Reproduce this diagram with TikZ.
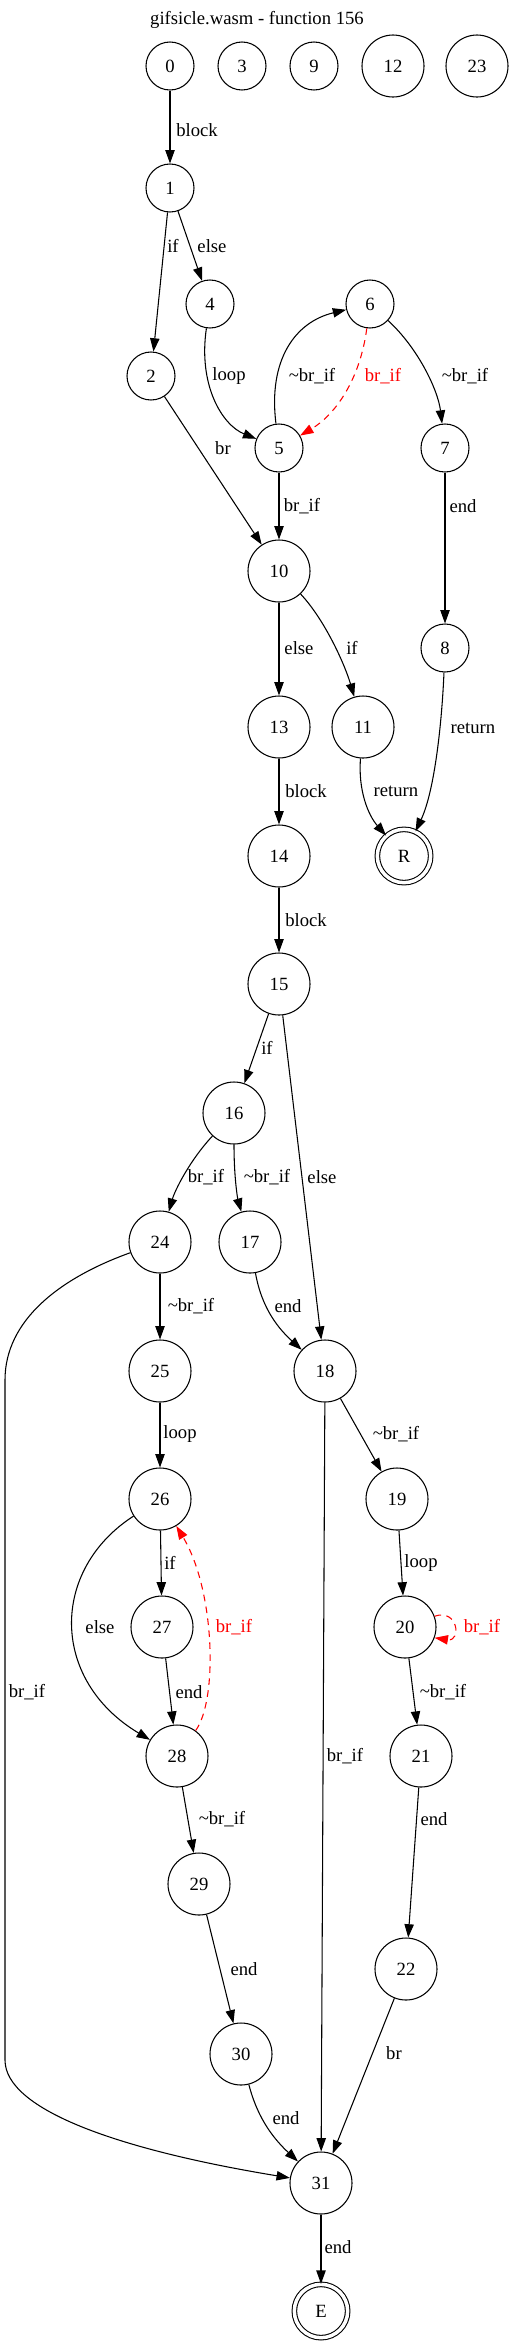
\documentclass[tikz,border=0pt]{standalone}
\usepackage{fontspec}
\setmainfont{Liberation Serif}
\usetikzlibrary{arrows.meta}
\begin{document}
\begin{tikzpicture}[x=0.75pt,y=-0.75pt,
  every node/.style={font=\fontsize{14}{16}\selectfont},
  sn/.style={draw,circle,line width=0.8pt,minimum size=36pt,inner sep=0pt},
  bn/.style={draw,circle,line width=0.8pt,minimum size=46.5pt,inner sep=0pt},
  fn/.style={circle,draw,double,double distance=2.6pt,line width=0.8pt,minimum size=40pt,inner sep=0pt},
  ed/.style={line width=0.8pt,-{Triangle[length=10pt,width=7pt]}},
  red ed/.style={ed,draw=red,dashed,dash pattern=on 5pt off 4pt,-{Triangle[length=10pt,width=7pt,fill=red]}},
  lb/.style={inner sep=0pt},
  rlb/.style={inner sep=0pt,text=red}]
\useasboundingbox (0,0) rectangle (513,2346);
\node[lb] (title) at (257,20) {gifsicle.wasm - function 156};
% nodes
\node[sn] (n0) at (170,66) {0};
\node[sn] (n3) at (242,66) {3};
\node[sn] (n9) at (314,66) {9};
\node[bn] (n12) at (393,66) {12};
\node[bn] (n23) at (477,66) {23};
\node[sn] (n1) at (170,188) {1};
\node[sn] (n4) at (210,304) {4};
\node[sn] (n6) at (370,304) {6};
\node[sn] (n2) at (151,376) {2};
\node[sn] (n5) at (279,448) {5};
\node[sn] (n7) at (445,448) {7};
\node[bn] (n10) at (279,571) {10};
\node[sn] (n8) at (445,648) {8};
\node[bn] (n13) at (279,727) {13};
\node[bn] (n11) at (363,727) {11};
\node[bn] (n14) at (279,856) {14};
\node[fn] (R) at (404,856) {R};
\node[bn] (n15) at (279,984) {15};
\node[bn] (n16) at (234,1113) {16};
\node[bn] (n24) at (160,1242) {24};
\node[bn] (n17) at (250,1242) {17};
\node[bn] (n25) at (160,1371) {25};
\node[bn] (n18) at (325,1371) {18};
\node[bn] (n26) at (160,1499) {26};
\node[bn] (n19) at (397,1499) {19};
\node[bn] (n27) at (162,1627) {27};
\node[bn] (n20) at (405,1627) {20};
\node[bn] (n28) at (177,1756) {28};
\node[bn] (n21) at (421,1756) {21};
\node[bn] (n29) at (199,1884) {29};
\node[bn] (n22) at (406,1969) {22};
\node[bn] (n30) at (241,2054) {30};
\node[bn] (n31) at (321,2183) {31};
\node[fn] (E) at (321,2311) {E};
% edges
\draw[ed] (n0) -- (n1);
\node[lb] (l01) at (197,130) {block};
\draw[ed] (n1) -- (n2);
\node[lb] (l12) at (173,246) {if};
\draw[ed] (n1) -- (n4);
\node[lb] (l14) at (212,246) {else};
\draw[ed] (n4) .. controls (198,385) and (222,425) .. (n5);
\node[lb] (l45) at (229,376) {loop};
\draw[ed] (n5) .. controls (268,360) and (295,322) .. (n6);
\node[lb] (l56) at (312,376) {\textasciitilde br\_if};
\draw[red ed] (n6) .. controls (360,380) and (335,415) .. (n5);
\node[rlb] (l65) at (383,376) {br\_if};
\draw[ed] (n6) .. controls (418,348) and (438,390) .. (n7);
\node[lb] (l67) at (465,376) {\textasciitilde br\_if};
\draw[ed] (n2) -- (n10);
\node[lb] (l210) at (223,448) {br};
\draw[ed] (n5) -- (n10);
\node[lb] (l510) at (302,506) {br\_if};
\draw[ed] (n7) -- (n8);
\node[lb] (l78) at (463,506) {end};
\draw[ed] (n10) -- (n13);
\node[lb] (l1013) at (299,648) {else};
\draw[ed] (n10) .. controls (325,620) and (345,665) .. (n11);
\node[lb] (l1011) at (352,648) {if};
\draw[ed] (n8) .. controls (442,720) and (435,790) .. (R);
\node[lb] (l8R) at (473,728) {return};
\draw[ed] (n11) .. controls (358,790) and (368,815) .. (R);
\node[lb] (l11R) at (396,791) {return};
\draw[ed] (n13) -- (n14);
\node[lb] (l1314) at (306,791) {block};
\draw[ed] (n14) -- (n15);
\node[lb] (l1415) at (306,920) {block};
\draw[ed] (n15) -- (n16);
\node[lb] (l1516) at (267,1048) {if};
\draw[ed] (n15) -- (n18);
\node[lb] (l1518) at (322,1177) {else};
\draw[ed] (n16) .. controls (190,1160) and (175,1190) .. (n24);
\node[lb] (l1624) at (206,1177) {br\_if};
\draw[ed] (n16) .. controls (234,1180) and (238,1200) .. (n17);
\node[lb] (l1617) at (267,1177) {\textasciitilde br\_if};
\draw[ed] (n17) .. controls (262,1310) and (280,1330) .. (n18);
\node[lb] (l1718) at (288,1306) {end};
\draw[ed] (n24) -- (n25);
\node[lb] (l2425) at (191,1306) {\textasciitilde br\_if};
\draw[ed] (n25) -- (n26);
\node[lb] (l2526) at (180,1434) {loop};
\coordinate (c1) at (5,1380);
\coordinate (c2) at (5,2060);
\draw[ed] (n24) .. controls (60,1278) and (5,1320) .. (c1) -- (c2) .. controls (5,2110) and (120,2150) .. (n31);
\node[lb] (l2431) at (27,1692) {br\_if};
\draw[ed] (n18) -- (n19);
\node[lb] (l1819) at (396,1434) {\textasciitilde br\_if};
\draw[ed] (n18) -- (n31);
\node[lb] (l1831) at (345,1756) {br\_if};
\draw[ed] (n26) -- (n27);
\node[lb] (l2627) at (170,1563) {if};
\draw[ed] (n26) .. controls (50,1570) and (50,1680) .. (n28);
\node[lb] (l2628) at (100,1627) {else};
\draw[ed] (n27) -- (n28);
\node[lb] (l2728) at (189,1692) {end};
\draw[red ed] (n28) .. controls (218,1700) and (215,1590) .. (n26);
\node[rlb] (l2826) at (234,1627) {br\_if};
\draw[ed] (n19) -- (n20);
\node[lb] (l1920) at (421,1563) {loop};
\draw[red ed] (n20.20) .. controls (458,1608) and (462,1642) .. (n20.-20);
\node[rlb] (l2020) at (482,1627) {br\_if};
\draw[ed] (n20) -- (n21);
\node[lb] (l2021) at (443,1692) {\textasciitilde br\_if};
\draw[ed] (n21) -- (n22);
\node[lb] (l2122) at (434,1819) {end};
\draw[ed] (n28) -- (n29);
\node[lb] (l2829) at (222,1819) {\textasciitilde br\_if};
\draw[ed] (n29) -- (n30);
\node[lb] (l2930) at (244,1969) {end};
\draw[ed] (n22) -- (n31);
\node[lb] (l2231) at (394,2053) {br};
\draw[ed] (n30) .. controls (258,2120) and (275,2140) .. (n31);
\node[lb] (l3031) at (286,2118) {end};
\draw[ed] (n31) -- (E);
\node[lb] (l31E) at (338,2247) {end};
\end{tikzpicture}
\end{document}
